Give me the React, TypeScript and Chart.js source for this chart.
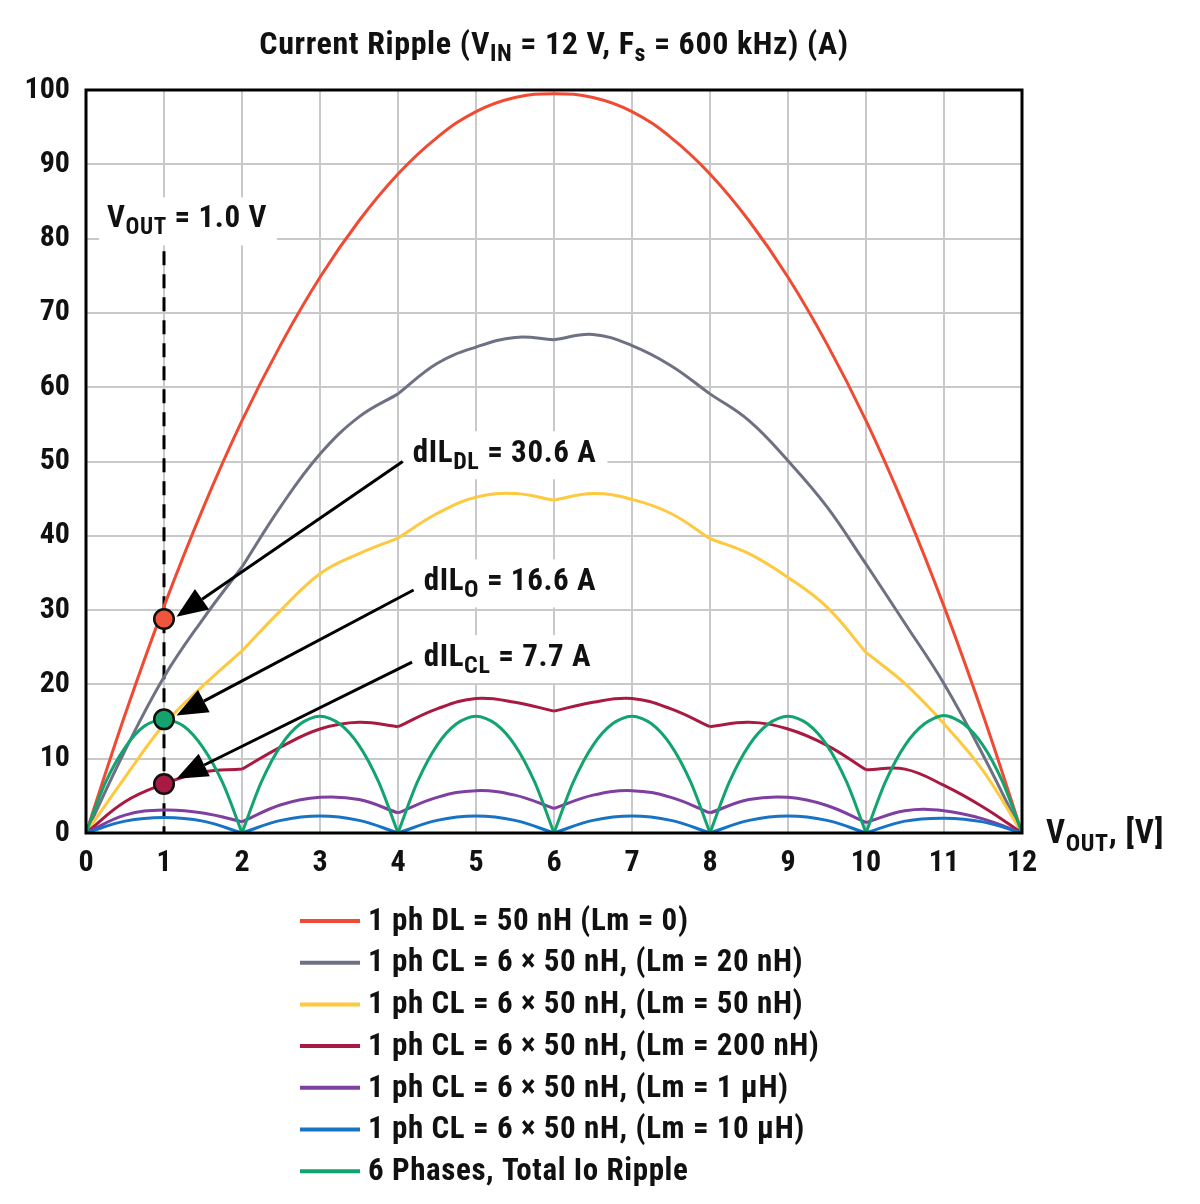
import React, { useEffect, useRef } from "react";
import { Chart, registerables } from "chart.js";

Chart.register(...registerables);

const FONT = "'Liberation Sans Narrow', 'Roboto Condensed', Roboto, sans-serif";

// ---------- data ----------
const X_HALF = [0, 0.5, 1, 1.5, 2, 2.5, 3, 3.5, 4, 4.5, 5, 5.5, 6, 6.5, 7, 7.5, 8, 8.5, 9, 9.5, 10, 10.5, 11, 11.5, 12];
const X_QUARTER = [
  0, 0.25, 0.5, 0.75, 1, 1.25, 1.5, 1.75, 2, 2.25, 2.5, 2.75, 3, 3.25, 3.5, 3.75, 4, 4.25, 4.5, 4.75, 5, 5.25, 5.5, 5.75, 6,
  6.25, 6.5, 6.75, 7, 7.25, 7.5, 7.75, 8, 8.25, 8.5, 8.75, 9, 9.25, 9.5, 9.75, 10, 10.25, 10.5, 10.75, 11, 11.25, 11.5, 11.75, 12,
];

const DL_50NH = [0, 15.9, 30.5, 43.7, 55.5, 65.8, 74.8, 82.4, 88.7, 93.6, 97.1, 99.0, 99.5, 99.0, 97.1, 93.6, 88.7, 82.4, 74.8, 65.8, 55.5, 43.7, 30.5, 15.9, 0];
const CL_LM20N = [0, 11.1, 21.0, 28.8, 35.8, 44.0, 51.0, 56.0, 59.1, 63.2, 65.4, 66.7, 66.4, 67.1, 65.6, 62.9, 59.1, 55.5, 50.1, 43.9, 36.2, 28.2, 20.1, 10.5, 0];
const CL_LM50N = [0, 7.5, 14.6, 19.8, 24.5, 30.0, 34.9, 37.6, 39.7, 43.0, 45.2, 45.7, 44.8, 45.7, 44.9, 43.0, 39.6, 37.6, 34.4, 30.4, 24.3, 20.1, 14.7, 8.4, 0];
const CL_LM200N = [0, 4.2, 6.6, 8.2, 8.6, 11.6, 14.0, 14.9, 14.3, 16.7, 18.1, 17.6, 16.4, 17.6, 18.1, 16.7, 14.3, 14.9, 14.0, 11.8, 8.5, 8.6, 6.4, 3.5, 0];
const CL_LM1U = [0, 2.4, 3.1, 2.7, 1.5, 3.8, 4.8, 4.5, 2.7, 4.8, 5.7, 5.1, 3.3, 5.1, 5.7, 4.8, 2.7, 4.5, 4.8, 3.7, 1.4, 3.0, 3.0, 1.9, 0];
const CL_LM10U = [0, 1.6, 2.1, 1.6, 0, 1.7, 2.3, 1.7, 0, 1.7, 2.3, 1.7, 0, 1.7, 2.3, 1.7, 0, 1.7, 2.3, 1.7, 0, 1.6, 2.0, 1.5, 0];
const TOTAL_IO = [
  0, 6.8, 11.5, 14.4, 15.3, 14.4, 11.5, 6.8, 0,
  6.9, 11.8, 14.7, 15.7, 14.7, 11.8, 6.9, 0,
  6.9, 11.8, 14.7, 15.7, 14.7, 11.8, 6.9, 0,
  6.9, 11.8, 14.7, 15.7, 14.7, 11.8, 6.9, 0,
  6.9, 11.8, 14.7, 15.7, 14.7, 11.8, 6.9, 0,
  6.9, 11.8, 14.7, 15.8, 14.7, 11.8, 6.9, 0,
];

const KINKS = [2, 4, 6, 8, 10];

const LABELS = [
  "1 ph DL = 50 nH (Lm = 0)",
  "1 ph CL = 6 \u00d7 50 nH, (Lm = 20 nH)",
  "1 ph CL = 6 \u00d7 50 nH, (Lm = 50 nH)",
  "1 ph CL = 6 \u00d7 50 nH, (Lm = 200 nH)",
  "1 ph CL = 6 \u00d7 50 nH, (Lm = 1 \u00b5H)",
  "1 ph CL = 6 \u00d7 50 nH, (Lm = 10 \u00b5H)",
  "6 Phases, Total Io Ripple",
];
const COLORS = ["#f04a33", "#6e7184", "#fec83f", "#a81a41", "#7e3fa1", "#1873c5", "#12a46e"];

const X_TICKS_MAX = 12;
const Y_TICKS_MAX = 100;

// markers at Vout = 1.0 V
const MARKER_X = [1, 1, 1];
const MARKER_Y = [28.8, 15.3, 6.6];
const MARKER_FILL = ["#ef563b", "#14a36d", "#a81a41"];

// annotation labels (data coordinates)
const ANN_X = [4.19, 4.33, 4.33];
const ANN_Y = [49.9, 32.65, 22.46];
const ANN_MAIN = ["dIL", "dIL", "dIL"];
const ANN_SUB = ["DL", "O", "CL"];
const ANN_REST = [" = 30.6 A", " = 16.6 A", " = 7.7 A"];
const ARROW_FROM_X = [4.06, 4.2, 4.18];
const ARROW_FROM_Y = [50.0, 32.7, 23.0];
const ARROW_TO_X = [1.16, 1.16, 1.16];
const ARROW_TO_Y = [29.1, 15.8, 7.3];

const VOUT_LINE_X = 1;
const VOUT_LINE_TOP = 78.3;
const VOUT_LABEL_X = 0.27;
const VOUT_LABEL_Y = 81.5;

type Part = { t: string; sub?: boolean };

const SPACING = "0.6px";

function partsWidth(ctx: CanvasRenderingContext2D, parts: Part[], size: number, subSize: number) {
  let w = 0;
  (ctx as any).letterSpacing = SPACING;
  for (const p of parts) {
    ctx.font = `bold ${p.sub ? subSize : size}px ${FONT}`;
    w += ctx.measureText(p.t).width;
  }
  return w;
}

function drawParts(
  ctx: CanvasRenderingContext2D,
  parts: Part[],
  x: number,
  y: number,
  size: number,
  subSize: number,
  subShift: number
) {
  let cx = x;
  ctx.textAlign = "left";
  ctx.textBaseline = "alphabetic";
  (ctx as any).letterSpacing = SPACING;
  for (const p of parts) {
    ctx.font = `bold ${p.sub ? subSize : size}px ${FONT}`;
    ctx.fillText(p.t, cx, p.sub ? y + subShift : y);
    cx += ctx.measureText(p.t).width;
  }
  return cx;
}

function toPoints(xs: number[], ys: number[], breaks: number[]) {
  const pts: { x: number; y: number | null }[] = [];
  xs.forEach((x, i) => {
    pts.push({ x, y: ys[i] });
    if (breaks.includes(x) && i > 0 && i < xs.length - 1) {
      pts.push({ x, y: null });
      pts.push({ x, y: ys[i] });
    }
  });
  return pts;
}

const decorPlugin = {
  id: "decor",
  beforeDraw(chart: any) {
    const ctx = chart.ctx as CanvasRenderingContext2D;
    ctx.save();
    ctx.fillStyle = "#ffffff";
    ctx.fillRect(0, 0, chart.width, chart.height);
    ctx.restore();
  },
  beforeDatasetsDraw(chart: any) {
    const ctx = chart.ctx as CanvasRenderingContext2D;
    const xs = chart.scales.x;
    const ys = chart.scales.y;
    ctx.save();
    ctx.fillStyle = "#ffffff";
    const vx = xs.getPixelForValue(VOUT_LABEL_X);
    const vy = ys.getPixelForValue(VOUT_LABEL_Y);
    const vparts: Part[] = [{ t: "V" }, { t: "OUT", sub: true }, { t: " = 1.0 V" }];
    const vw = partsWidth(ctx, vparts, 31, 23);
    ctx.fillRect(vx - 8, vy - 30, vw + 18, 48);
    for (let i = 0; i < ANN_X.length; i++) {
      const ax = xs.getPixelForValue(ANN_X[i]);
      const ay = ys.getPixelForValue(ANN_Y[i]);
      const parts: Part[] = [{ t: ANN_MAIN[i] }, { t: ANN_SUB[i], sub: true }, { t: ANN_REST[i] }];
      const w = partsWidth(ctx, parts, 31, 24);
      ctx.fillRect(ax - 9, ay - 31, w + 20, 48);
    }
    const dx = xs.getPixelForValue(VOUT_LINE_X);
    ctx.strokeStyle = "#000000";
    ctx.lineWidth = 3;
    ctx.setLineDash([14, 9]);
    ctx.beginPath();
    ctx.moveTo(dx, ys.getPixelForValue(VOUT_LINE_TOP));
    ctx.lineTo(dx, ys.getPixelForValue(0));
    ctx.stroke();
    ctx.setLineDash([]);
    ctx.restore();
  },
  afterDatasetsDraw(chart: any) {
    const ctx = chart.ctx as CanvasRenderingContext2D;
    const xs = chart.scales.x;
    const ys = chart.scales.y;
    const area = chart.chartArea;
    ctx.save();
    ctx.strokeStyle = "#000000";
    ctx.lineWidth = 3;
    ctx.strokeRect(area.left, area.top, area.right - area.left, area.bottom - area.top);

    ctx.fillStyle = "#111111";
    drawParts(
      ctx,
      [{ t: "V" }, { t: "OUT", sub: true }, { t: " = 1.0 V" }],
      xs.getPixelForValue(VOUT_LABEL_X),
      ys.getPixelForValue(VOUT_LABEL_Y),
      31,
      23,
      7
    );
    for (let i = 0; i < ANN_X.length; i++) {
      ctx.fillStyle = "#111111";
      drawParts(
        ctx,
        [{ t: ANN_MAIN[i] }, { t: ANN_SUB[i], sub: true }, { t: ANN_REST[i] }],
        xs.getPixelForValue(ANN_X[i]),
        ys.getPixelForValue(ANN_Y[i]),
        31,
        24,
        7
      );
      const x0 = xs.getPixelForValue(ARROW_FROM_X[i]);
      const y0 = ys.getPixelForValue(ARROW_FROM_Y[i]);
      const x1 = xs.getPixelForValue(ARROW_TO_X[i]);
      const y1 = ys.getPixelForValue(ARROW_TO_Y[i]);
      const ang = Math.atan2(y1 - y0, x1 - x0);
      const headLen = 31;
      const headHalf = 12.5;
      const bx = x1 - headLen * Math.cos(ang);
      const by = y1 - headLen * Math.sin(ang);
      ctx.strokeStyle = "#000000";
      ctx.lineWidth = 3;
      ctx.beginPath();
      ctx.moveTo(x0, y0);
      ctx.lineTo(bx, by);
      ctx.stroke();
      ctx.fillStyle = "#000000";
      ctx.beginPath();
      ctx.moveTo(x1, y1);
      ctx.lineTo(bx + headHalf * Math.sin(ang), by - headHalf * Math.cos(ang));
      ctx.lineTo(bx - headHalf * Math.sin(ang), by + headHalf * Math.cos(ang));
      ctx.closePath();
      ctx.fill();
    }
    for (let i = 0; i < MARKER_X.length; i++) {
      ctx.beginPath();
      ctx.arc(xs.getPixelForValue(MARKER_X[i]), ys.getPixelForValue(MARKER_Y[i]), 9.8, 0, Math.PI * 2);
      ctx.fillStyle = MARKER_FILL[i];
      ctx.fill();
      ctx.lineWidth = 2.5;
      ctx.strokeStyle = "#111111";
      ctx.stroke();
    }

    // title
    ctx.fillStyle = "#111111";
    const tparts: Part[] = [
      { t: "Current Ripple (V" },
      { t: "IN", sub: true },
      { t: " = 12 V, F" },
      { t: "s", sub: true },
      { t: " = 600 kHz) (A)" },
    ];
    const tw = partsWidth(ctx, tparts, 32, 24);
    drawParts(ctx, tparts, (area.left + area.right) / 2 - tw / 2, 54, 32, 24, 7);

    // x axis title
    drawParts(ctx, [{ t: "V" }, { t: "OUT", sub: true }, { t: ", [V]" }], area.right + 24, 843, 33, 24, 8);

    // legend
    const lx = 300;
    const ly0 = 921;
    const step = 41.7;
    chart.data.datasets.forEach((ds: any, i: number) => {
      const yy = ly0 + i * step;
      ctx.strokeStyle = ds.borderColor;
      ctx.lineWidth = 4;
      ctx.beginPath();
      ctx.moveTo(lx, yy);
      ctx.lineTo(lx + 60, yy);
      ctx.stroke();
      ctx.fillStyle = "#111111";
      ctx.font = `bold 31px ${FONT}`;
      (ctx as any).letterSpacing = SPACING;
      ctx.textAlign = "left";
      ctx.textBaseline = "middle";
      ctx.fillText(ds.label, lx + 68, yy + 1);
    });
    ctx.restore();
  },
};

export default function App() {
  const ref = useRef<HTMLCanvasElement | null>(null);

  useEffect(() => {
    if (!ref.current) return;
    const series = [DL_50NH, CL_LM20N, CL_LM50N, CL_LM200N, CL_LM1U, CL_LM10U];
    const datasets: any[] = series.map((ys, i) => ({
      label: LABELS[i],
      data: i === 0 ? toPoints(X_HALF, ys, []) : toPoints(X_HALF, ys, KINKS),
      borderColor: COLORS[i],
      backgroundColor: COLORS[i],
      borderWidth: 3,
      pointRadius: 0,
      tension: 0.4,
      fill: false,
      order: 6 - i + 1,
    }));
    datasets.push({
      label: LABELS[6],
      data: toPoints(X_QUARTER, TOTAL_IO, KINKS),
      borderColor: COLORS[6],
      backgroundColor: COLORS[6],
      borderWidth: 3,
      pointRadius: 0,
      tension: 0.3,
      fill: false,
      order: 0,
    });

    const chart = new Chart(ref.current, {
      type: "line",
      data: { datasets },
      plugins: [decorPlugin],
      options: {
        animation: false,
        responsive: false,
        maintainAspectRatio: false,
        spanGaps: false,
        layout: { padding: { left: 0, right: 178, top: 90, bottom: 321 } },
        plugins: { legend: { display: false }, tooltip: { enabled: false }, title: { display: false } },
        scales: {
          x: {
            type: "linear",
            min: 0,
            max: X_TICKS_MAX,
            border: { display: false },
            grid: { color: "#c9c9c9", lineWidth: 2, drawTicks: false },
            ticks: {
              stepSize: 1,
              padding: 12,
              color: "#111111",
              font: { family: FONT, size: 30, weight: "bold" },
              maxRotation: 0,
            },
            afterFit: (s: any) => {
              s.height = 50;
            },
          },
          y: {
            type: "linear",
            min: 0,
            max: Y_TICKS_MAX,
            border: { display: false },
            grid: { color: "#c9c9c9", lineWidth: 2, drawTicks: false },
            ticks: {
              stepSize: 10,
              padding: 16,
              color: "#111111",
              font: { family: FONT, size: 30, weight: "bold" },
            },
            afterFit: (s: any) => {
              s.width = 86;
            },
          },
        },
      },
    });
    return () => chart.destroy();
  }, []);

  return (
    <div style={{ position: "absolute", left: 0, top: 0, width: 1200, height: 1204, background: "#fff" }}>
      <canvas ref={ref} width={1200} height={1204} style={{ display: "block" }} />
    </div>
  );
}
